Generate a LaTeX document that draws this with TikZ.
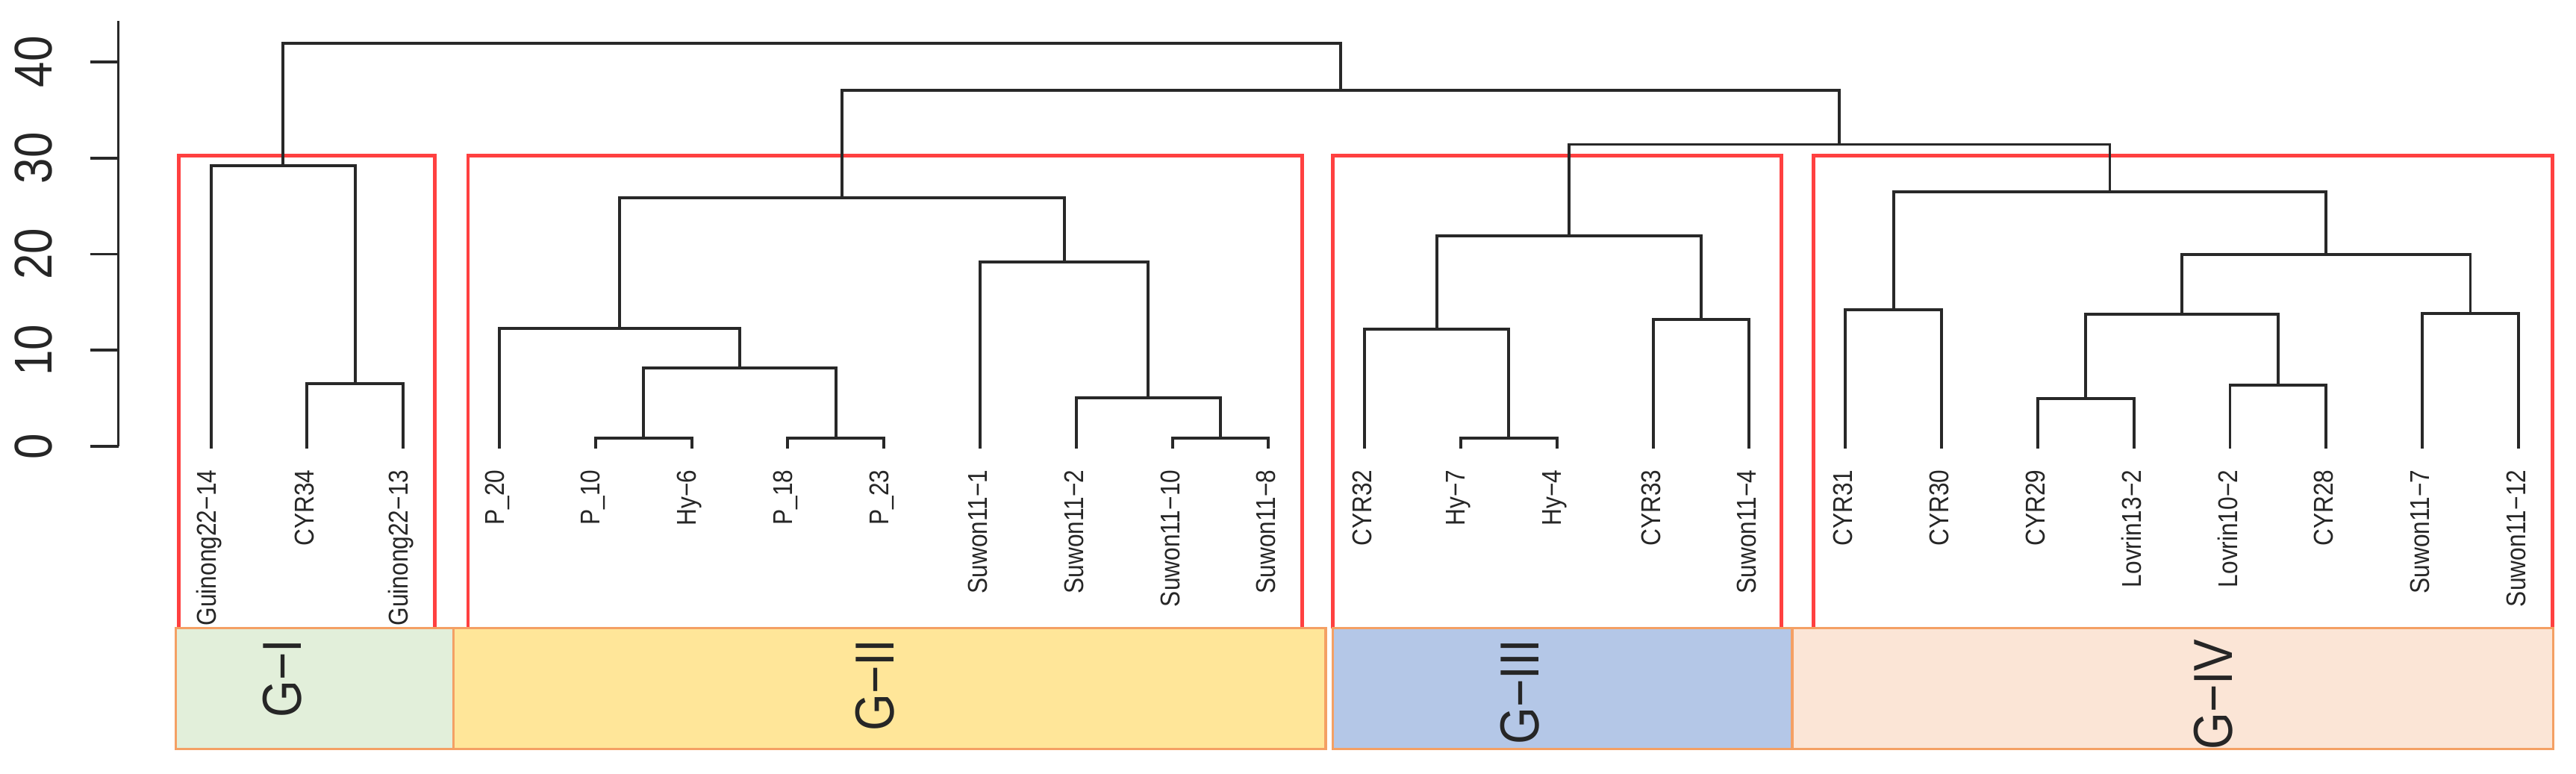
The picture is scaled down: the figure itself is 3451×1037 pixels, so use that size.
\documentclass[tikz,border=0pt]{standalone}
\usepackage{fontspec}
\setmainfont{Liberation Sans}
\usepackage{graphicx}
\newcommand\lx[1]{282.6+128.8*(#1-1)}
\newcommand\hy[1]{598.3-12.89*(#1)}
\newcommand\sx[1]{\scalebox{1}[1.15]{#1}}
\definecolor{linec}{RGB}{40,40,40}
\definecolor{redc}{RGB}{255,64,64}
\definecolor{orc}{RGB}{244,160,100}
\definecolor{fgI}{RGB}{226,239,218}
\definecolor{fgII}{RGB}{255,230,153}
\definecolor{fgIII}{RGB}{180,199,231}
\definecolor{fgIV}{RGB}{251,229,214}
\tikzset{
  dendro/.style={draw=linec, line width=1.1pt},
  redbox/.style={draw=redc, line width=1.3pt},
  grpbox/.style={draw=orc, line width=0.9pt},
  leaflab/.style={rotate=90, anchor=east, inner sep=0pt, text=black!85, font=\fontsize{9}{10}\selectfont},
  ticklab/.style={rotate=90, inner sep=0pt, text=black!85, font=\fontsize{17.6}{20}\selectfont},
  grplab/.style={rotate=90, anchor=east, inner sep=0pt, text=black!85, font=\fontsize{18.2}{20}\selectfont}
}
\begin{document}
\begin{tikzpicture}[x=0.01cm,y=-0.01cm]
\useasboundingbox (0,0) rectangle (3451,1037);
\fill[white] (0,0) rectangle (3451,1037);
% red cluster boxes
\draw[redbox] (239.7,841.7) -- (239.7,208.5) -- (582.6,208.5) -- (582.6,841.7);
\draw[redbox] (627.0,841.7) -- (627.0,208.5) -- (1744.5,208.5) -- (1744.5,841.7);
\draw[redbox] (1785.3,841.7) -- (1785.3,208.5) -- (2386.7,208.5) -- (2386.7,841.7);
\draw[redbox] (2429.7,841.7) -- (2429.7,208.5) -- (3419.5,208.5) -- (3419.5,841.7);
% group boxes
\draw[grpbox, fill=fgI] (235.6,841.7) rectangle (607.6,1003.3);
\draw[grpbox, fill=fgII] (607.6,841.7) rectangle (1776,1003.3);
\draw[grpbox, fill=fgIII] (1785.3,841.7) rectangle (2401,1003.3);
\draw[grpbox, fill=fgIV] (2401,841.7) rectangle (3420.6,1003.3);
\node[grplab] (gl1) at (378,856) {\sx{G−I}};
\node[grplab] (gl2) at (1172,856) {\sx{G−II}};
\node[grplab] (gl3) at (2036,856) {\sx{G−III}};
\node[grplab] (gl4) at (2965,856) {\sx{G−IV}};
% axis
\draw[dendro] (158.5,28) coordinate (axtop) -- (158.5,{\hy{0}}) coordinate (axbot);
\foreach \v in {0,10,20,30,40} {
  \draw[dendro] (120.5,{\hy{\v}}) -- (158.5,{\hy{\v}});
  \node[ticklab] (tk\v) at (44.6,{\hy{\v}}) {\sx{\v}};
}
% leaves
\foreach \i in {1,...,25} \coordinate (L\i) at ({\lx{\i}},601);
\foreach \i/\t in {1/Guinong22−14,2/CYR34,3/Guinong22−13,4/P\_20,5/P\_10,6/Hy−6,7/P\_18,8/P\_23,9/Suwon11−1,10/Suwon11−2,11/Suwon11−10,12/Suwon11−8,13/CYR32,14/Hy−7,15/Hy−4,16/CYR33,17/Suwon11−4,18/CYR31,19/CYR30,20/CYR29,21/Lovrin13−2,22/Lovrin10−2,23/CYR28,24/Suwon11−7,25/Suwon11−12}
  \node[leaflab] (t\i) at ({\lx{\i}-3},629) {\sx{\t}};
% merges
\coordinate (m1) at ({\lx{2.5}},{\hy{6.57}});
\coordinate (gI) at ({\lx{1.75}},{\hy{29.2}});
\coordinate (a1) at ({\lx{5.5}},{\hy{0.85}});
\coordinate (a2) at ({\lx{7.5}},{\hy{0.85}});
\coordinate (a3) at ({\lx{6.5}},{\hy{8.14}});
\coordinate (a4) at ({\lx{5.25}},{\hy{12.28}});
\coordinate (b1) at ({\lx{11.5}},{\hy{0.85}});
\coordinate (b2) at ({\lx{10.75}},{\hy{5.04}});
\coordinate (b3) at ({\lx{9.875}},{\hy{19.18}});
\coordinate (gII) at ({\lx{7.5625}},{\hy{25.86}});
\coordinate (c1) at ({\lx{14.5}},{\hy{0.9}});
\coordinate (c2) at ({\lx{13.75}},{\hy{12.2}});
\coordinate (c3) at ({\lx{16.5}},{\hy{13.2}});
\coordinate (gIII) at ({\lx{15.125}},{\hy{21.9}});
\coordinate (d1) at ({\lx{18.5}},{\hy{14.2}});
\coordinate (d2) at ({\lx{20.5}},{\hy{4.96}});
\coordinate (d3) at ({\lx{22.5}},{\hy{6.41}});
\coordinate (d4) at ({\lx{21.5}},{\hy{13.75}});
\coordinate (d5) at ({\lx{24.5}},{\hy{13.83}});
\coordinate (d6) at ({\lx{23}},{\hy{19.96}});
\coordinate (gIV) at ({\lx{20.75}},{\hy{26.5}});
\coordinate (g34) at ({\lx{17.9375}},{\hy{31.4}});
\coordinate (g234) at ({\lx{12.75}},{\hy{37.0}});
\coordinate (root) at ({\lx{7.25}},{\hy{41.9}});
\foreach \a/\m/\b in {L2/m1/L3, L1/gI/m1, L5/a1/L6, L7/a2/L8, a1/a3/a2, L4/a4/a3,
  L11/b1/L12, L10/b2/b1, L9/b3/b2, a4/gII/b3, L14/c1/L15, L13/c2/c1, L16/c3/L17,
  c2/gIII/c3, L18/d1/L19, L20/d2/L21, L22/d3/L23, d2/d4/d3, L24/d5/L25, d4/d6/d5,
  d1/gIV/d6, gIII/g34/gIV, gII/g234/g34, gI/root/g234}
  \draw[dendro] (\a) |- (\m) -| (\b);
\end{tikzpicture}
\end{document}
